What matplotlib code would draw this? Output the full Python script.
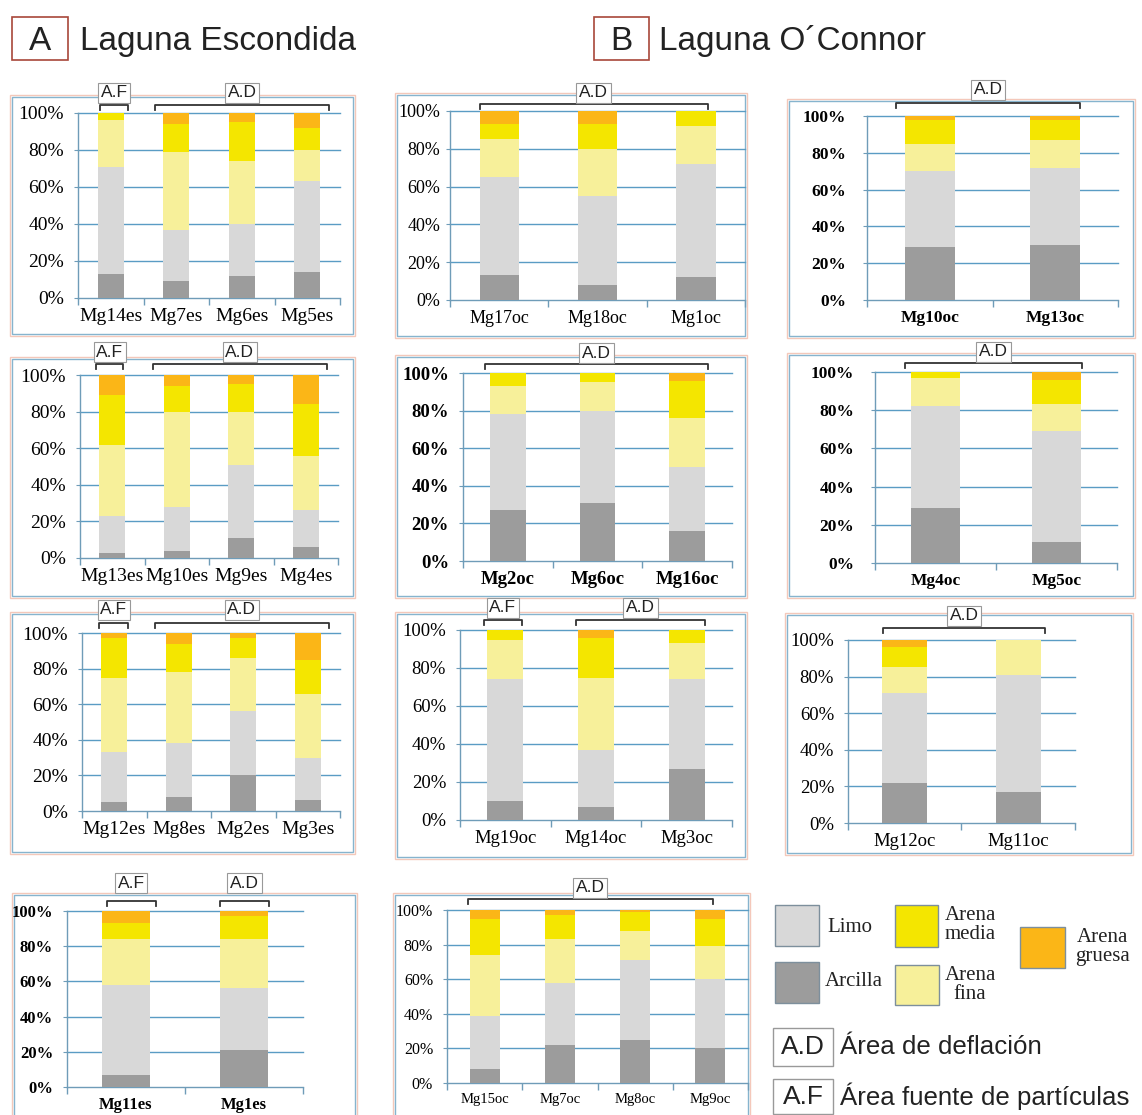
import matplotlib.pyplot as plt
from matplotlib.patches import Rectangle
from matplotlib.lines import Line2D
from matplotlib.ticker import PercentFormatter
import numpy as np

W, H = 1142, 1115

# Sample names per chart
escondida_1 = ["Mg14es", "Mg7es", "Mg6es", "Mg5es"]
escondida_2 = ["Mg13es", "Mg10es", "Mg9es", "Mg4es"]
escondida_3 = ["Mg12es", "Mg8es", "Mg2es", "Mg3es"]
escondida_4 = ["Mg11es", "Mg1es"]
oconnor_1 = ["Mg17oc", "Mg18oc", "Mg1oc"]
oconnor_2 = ["Mg10oc", "Mg13oc"]
oconnor_3 = ["Mg2oc", "Mg6oc", "Mg16oc"]
oconnor_4 = ["Mg4oc", "Mg5oc"]
oconnor_5 = ["Mg19oc", "Mg14oc", "Mg3oc"]
oconnor_6 = ["Mg12oc", "Mg11oc"]
oconnor_7 = ["Mg15oc", "Mg7oc", "Mg8oc", "Mg9oc"]

# Grain-size fractions (%) for each sample
arcilla = {"Mg14es": 13, "Mg7es": 9, "Mg6es": 12, "Mg5es": 14,
           "Mg13es": 3, "Mg10es": 4, "Mg9es": 11, "Mg4es": 6,
           "Mg12es": 5, "Mg8es": 8, "Mg2es": 20, "Mg3es": 6,
           "Mg11es": 7, "Mg1es": 21,
           "Mg17oc": 13, "Mg18oc": 8, "Mg1oc": 12, "Mg10oc": 29, "Mg13oc": 30,
           "Mg2oc": 27, "Mg6oc": 31, "Mg16oc": 16, "Mg4oc": 29, "Mg5oc": 11,
           "Mg19oc": 10, "Mg14oc": 7, "Mg3oc": 27, "Mg12oc": 22, "Mg11oc": 17,
           "Mg15oc": 8, "Mg7oc": 22, "Mg8oc": 25, "Mg9oc": 20}
limo = {"Mg14es": 58, "Mg7es": 28, "Mg6es": 28, "Mg5es": 49,
        "Mg13es": 20, "Mg10es": 24, "Mg9es": 40, "Mg4es": 20,
        "Mg12es": 28, "Mg8es": 30, "Mg2es": 36, "Mg3es": 24,
        "Mg11es": 51, "Mg1es": 35,
        "Mg17oc": 52, "Mg18oc": 47, "Mg1oc": 60, "Mg10oc": 41, "Mg13oc": 42,
        "Mg2oc": 51, "Mg6oc": 49, "Mg16oc": 34, "Mg4oc": 53, "Mg5oc": 58,
        "Mg19oc": 64, "Mg14oc": 30, "Mg3oc": 47, "Mg12oc": 49, "Mg11oc": 64,
        "Mg15oc": 31, "Mg7oc": 36, "Mg8oc": 46, "Mg9oc": 40}
arena_fina = {"Mg14es": 25, "Mg7es": 42, "Mg6es": 34, "Mg5es": 17,
              "Mg13es": 39, "Mg10es": 52, "Mg9es": 29, "Mg4es": 30,
              "Mg12es": 42, "Mg8es": 40, "Mg2es": 30, "Mg3es": 36,
              "Mg11es": 26, "Mg1es": 28,
              "Mg17oc": 20, "Mg18oc": 25, "Mg1oc": 20, "Mg10oc": 15, "Mg13oc": 15,
              "Mg2oc": 15, "Mg6oc": 15, "Mg16oc": 26, "Mg4oc": 15, "Mg5oc": 14,
              "Mg19oc": 21, "Mg14oc": 38, "Mg3oc": 19, "Mg12oc": 14, "Mg11oc": 19,
              "Mg15oc": 35, "Mg7oc": 25, "Mg8oc": 17, "Mg9oc": 19}
arena_media = {"Mg14es": 4, "Mg7es": 15, "Mg6es": 21, "Mg5es": 12,
               "Mg13es": 27, "Mg10es": 14, "Mg9es": 15, "Mg4es": 28,
               "Mg12es": 22, "Mg8es": 16, "Mg2es": 11, "Mg3es": 19,
               "Mg11es": 9, "Mg1es": 13,
               "Mg17oc": 8, "Mg18oc": 13, "Mg1oc": 8, "Mg10oc": 13, "Mg13oc": 11,
               "Mg2oc": 7, "Mg6oc": 5, "Mg16oc": 20, "Mg4oc": 3, "Mg5oc": 13,
               "Mg19oc": 5, "Mg14oc": 21, "Mg3oc": 7, "Mg12oc": 11, "Mg11oc": 0,
               "Mg15oc": 21, "Mg7oc": 14, "Mg8oc": 11, "Mg9oc": 16}
arena_gruesa = {"Mg14es": 0, "Mg7es": 6, "Mg6es": 5, "Mg5es": 8,
                "Mg13es": 11, "Mg10es": 6, "Mg9es": 5, "Mg4es": 16,
                "Mg12es": 3, "Mg8es": 6, "Mg2es": 3, "Mg3es": 15,
                "Mg11es": 7, "Mg1es": 3,
                "Mg17oc": 7, "Mg18oc": 7, "Mg1oc": 0, "Mg10oc": 2, "Mg13oc": 2,
                "Mg2oc": 0, "Mg6oc": 0, "Mg16oc": 4, "Mg4oc": 0, "Mg5oc": 4,
                "Mg19oc": 0, "Mg14oc": 4, "Mg3oc": 0, "Mg12oc": 4, "Mg11oc": 0,
                "Mg15oc": 5, "Mg7oc": 3, "Mg8oc": 1, "Mg9oc": 5}

fractions = [arcilla, limo, arena_fina, arena_media, arena_gruesa]
colors = ["#9c9c9c", "#d8d8d8", "#f7f09a", "#f4e600", "#fbb617"]

grid_blue = "#5a9cc4"
axis_col = "#6f9cb8"

SERIF = ["Liberation Serif", "DejaVu Serif"]
SANS = ["Liberation Sans", "DejaVu Sans"]
plt.rcParams["font.family"] = SERIF


def fig_rect(x0, y0, x1, y1):
    # pixel box (top-left origin) -> figure fraction rect
    return x0 / W, 1 - y1 / H, (x1 - x0) / W, (y1 - y0) / H


def draw_frame(fig, box):
    x0, y0, x1, y1 = box
    fx, fy, fw, fh = fig_rect(x0, y0, x1, y1)
    fig.add_artist(Rectangle((fx, fy), fw, fh, transform=fig.transFigure,
                             fill=False, ec="#f4c8ba", lw=1.0, zorder=0))
    fx, fy, fw, fh = fig_rect(x0 + 2, y0 + 2, x1 - 2, y1 - 2)
    fig.add_artist(Rectangle((fx, fy), fw, fh, transform=fig.transFigure,
                             fill=False, ec="#86b4ce", lw=1.0, zorder=0))


def draw_panel(fig, samples, axbox, frame, groups, size=14, weight="normal",
               xsize=None, ypad=7, br=10, lb=22):
    draw_frame(fig, frame)
    x0, xr, y0, y100 = axbox
    ax = fig.add_axes(fig_rect(x0, y100, xr, y0))
    n = len(samples)
    pos = np.arange(n)
    bottom = np.zeros(n)
    for frac, col in zip(fractions, colors):
        vals = np.array([frac[s] for s in samples], dtype=float)
        ax.bar(pos, vals, 0.4, bottom=bottom, color=col, lw=0, zorder=3)
        bottom += vals
    ax.set_xlim(-0.5, n - 0.5)
    ax.set_ylim(0, 100)

    hpx = y0 - y100
    for lvl in range(20, 101, 20):
        ax.plot([-0.5, n - 0.5], [lvl, lvl], color=grid_blue, lw=1.0,
                zorder=2, clip_on=False)

    ax.set_yticks(range(0, 101, 20))
    ax.yaxis.set_major_formatter(PercentFormatter(decimals=0))
    ax.set_xticks(pos)
    ax.set_xticklabels(samples)
    ax.set_xticks(np.arange(n + 1) - 0.5, minor=True)
    ax.tick_params(axis="x", which="major", length=0, pad=7,
                   labelsize=xsize or size)
    ax.tick_params(axis="x", which="minor", length=5, color=axis_col, width=1)
    ax.tick_params(axis="y", length=3, color=axis_col, pad=ypad, labelsize=size)
    for t in ax.get_yticklabels() + ax.get_xticklabels():
        t.set_fontweight(weight)
    for side in ("top", "right"):
        ax.spines[side].set_visible(False)
    for side in ("left", "bottom"):
        ax.spines[side].set_color(axis_col)
        ax.spines[side].set_linewidth(1.0)
    ax.set_facecolor("none")

    # A.F / A.D brackets over the bars
    trans = ax.get_xaxis_transform()
    yb = 1 + br / hpx
    yd = 1 + (br - 5) / hpx
    yl = 1 + lb / hpx
    for label, a, b in groups:
        ax.add_line(Line2D([a, a, b, b], [yd, yb, yb, yd], transform=trans,
                           color="#333333", lw=1.3, clip_on=False))
        ax.text((a + b) / 2, yl, label, transform=trans, ha="center",
                va="center", fontsize=12.5, family=SANS, color="#222222",
                bbox=dict(boxstyle="square,pad=0.15", fc="white",
                          ec="#999999", lw=0.8), zorder=5)
    return ax


fig = plt.figure(figsize=(W / 100, H / 100), dpi=100)

# Laguna Escondida column
draw_panel(fig, escondida_1, (78, 340, 298, 113), (10, 95, 355, 336),
           [("A.F", -0.16, 0.26), ("A.D", 0.68, 3.33)], br=8, lb=20)
draw_panel(fig, escondida_2, (80, 338, 558, 375), (10, 357, 355, 598),
           [("A.F", -0.25, 0.17), ("A.D", 0.63, 3.33)], br=11, lb=23)
draw_panel(fig, escondida_3, (82, 340, 811, 633), (10, 612, 355, 854),
           [("A.F", -0.24, 0.22), ("A.D", 0.63, 3.33)], br=10, lb=23)
draw_panel(fig, escondida_4, (67, 303, 1087, 911), (12, 893, 357, 1125),
           [("A.F", -0.16, 0.25), ("A.D", 0.80, 1.21)], size=12,
           weight="bold", br=10, lb=28)

# Laguna O'Connor columns
draw_panel(fig, oconnor_1, (450, 745, 300, 111), (395, 93, 747, 338),
           [("A.D", -0.20, 2.12)], size=13, ypad=4, br=7, lb=18)
draw_panel(fig, oconnor_2, (867, 1118, 300, 116), (787, 99, 1135, 338),
           [("A.D", -0.27, 1.20)], size=12.5, weight="bold", ypad=12, br=13, lb=26)
draw_panel(fig, oconnor_3, (463, 732, 561, 373), (395, 355, 747, 598),
           [("A.D", -0.25, 2.23)], size=13.5, weight="bold", br=9, lb=20)
draw_panel(fig, oconnor_4, (875, 1117, 563, 372), (787, 353, 1135, 598),
           [("A.D", -0.25, 1.21)], size=12.5, weight="bold", ypad=12, br=9, lb=20)
draw_panel(fig, oconnor_5, (460, 732, 820, 630), (395, 612, 747, 859),
           [("A.F", -0.24, 0.18), ("A.D", 0.78, 2.20)], size=13.5, br=10, lb=22)
draw_panel(fig, oconnor_6, (848, 1075, 823, 640), (785, 613, 1133, 855),
           [("A.D", -0.19, 1.24)], size=13.5, br=12, lb=24)
draw_panel(fig, oconnor_7, (447, 748, 1083, 910), (393, 893, 750, 1125),
           [("A.D", -0.22, 3.03)], size=11.5, xsize=10.5, br=11, lb=22)

# Column headers
for letter, box, title, tx in [("A", (12, 17, 68, 60), "Laguna Escondida", 80),
                               ("B", (594, 17, 649, 60), "Laguna O\u00b4Connor", 659)]:
    fx, fy, fw, fh = fig_rect(*box)
    fig.add_artist(Rectangle((fx, fy), fw, fh, transform=fig.transFigure,
                             fill=False, ec="#a8473a", lw=1.2))
    fig.text(fx + fw / 2, 1 - 50 / H, letter, ha="center", va="baseline",
             fontsize=24, family=SANS, color="#222222")
    fig.text(tx / W, 1 - 50 / H, title, ha="left", va="baseline",
             fontsize=24, family=SANS, color="#222222")

# Legend
legend_boxes = [((775, 905, 819, 946), colors[1]),
                ((775, 962, 819, 1003), colors[0]),
                ((895, 905, 938, 947), colors[3]),
                ((895, 965, 939, 1005), colors[2]),
                ((1020, 927, 1065, 968), colors[4])]
for box, col in legend_boxes:
    fx, fy, fw, fh = fig_rect(*box)
    fig.add_artist(Rectangle((fx, fy), fw, fh, transform=fig.transFigure,
                             fc=col, ec="#7d8f9c", lw=1.0))

legend_text = [(827, 927, "Limo", "left"),
               (825, 982, "Arcilla", "left"),
               (970, 925, "Arena\nmedia", "center"),
               (970, 985, "Arena\nfina", "center"),
               (1102, 947, "Arena\ngruesa", "center")]
for x, y, txt, ha in legend_text:
    fig.text(x / W, 1 - y / H, txt, ha=ha, va="center", fontsize=15,
             linespacing=0.95, color="#222222")

for box, abbr, desc in [((773, 1028, 833, 1066), "A.D", "\u00c1rea de deflaci\u00f3n"),
                        ((773, 1079, 833, 1114), "A.F", "\u00c1rea fuente de part\u00edculas")]:
    fx, fy, fw, fh = fig_rect(*box)
    fig.add_artist(Rectangle((fx, fy), fw, fh, transform=fig.transFigure,
                             fill=False, ec="#999999", lw=1.0))
    yc = (box[1] + box[3]) / 2
    fig.text(fx + fw / 2, 1 - yc / H, abbr, ha="center", va="center",
             fontsize=19, family=SANS, color="#222222")
    fig.text(840 / W, 1 - yc / H, desc, ha="left", va="center",
             fontsize=18.6, family=SANS, color="#222222")

fig.savefig("out.png", dpi=100)
